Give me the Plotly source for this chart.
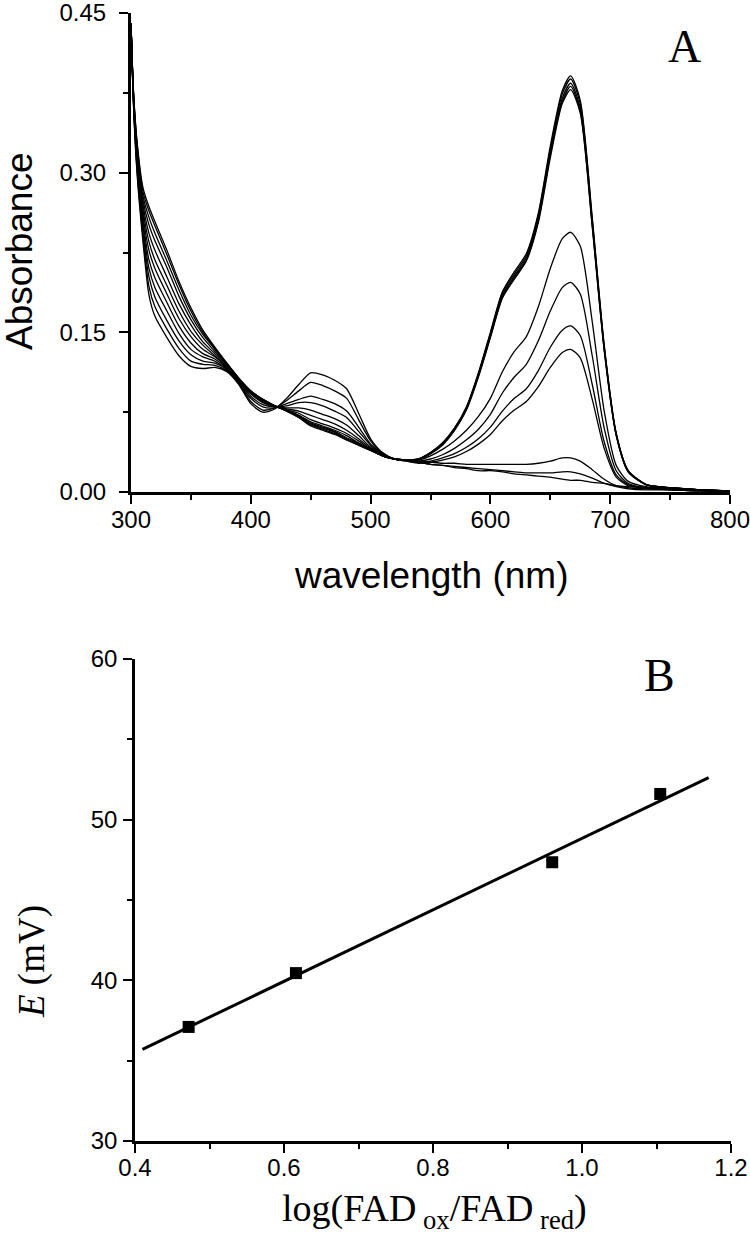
import numpy as np
import plotly.graph_objects as go

# ---------------- Panel A data: absorbance spectra ----------------
wavelength = [300, 302, 305, 310, 315, 320, 330, 340, 350, 360, 370, 380, 390,
              400, 410, 420, 430, 440, 450, 460, 470, 480, 490, 500, 510, 520,
              530, 540, 550, 560, 570, 580, 590, 600, 610, 620, 630, 640, 650, 660,
              667, 675, 685, 695, 705, 715, 730, 750, 775, 800]

spec01 = [.440, .365, .300, .235, .185, .165, .145, .128, .118, .116, .117, .113, .101,
          .083, .075, .078, .088, .101, .112, .110, .105, .097, .074, .050, .037, .031,
          .030, .031, .037, .046, .060, .080, .112, .150, .188, .207, .224, .262, .325, .377,
          .391, .368, .258, .138, .055, .020, .007, .004, .002, .001]
spec02 = [.440, .367, .303, .240, .193, .174, .153, .135, .123, .120, .119, .114, .102,
          .085, .077, .079, .086, .095, .103, .100, .095, .088, .068, .048, .036, .031,
          .030, .031, .037, .046, .060, .079, .111, .149, .187, .205, .222, .260, .322, .374,
          .388, .365, .256, .137, .055, .020, .007, .004, .002, .001]
spec03 = [.440, .368, .306, .245, .202, .183, .161, .142, .129, .123, .121, .115, .102,
          .088, .080, .079, .083, .087, .090, .087, .083, .076, .061, .045, .036, .031,
          .030, .031, .036, .045, .059, .079, .110, .147, .185, .203, .220, .257, .319, .370,
          .384, .361, .253, .135, .054, .020, .007, .004, .002, .001]
spec04 = [.440, .370, .309, .250, .210, .192, .170, .149, .134, .127, .123, .115, .103,
          .090, .082, .080, .081, .084, .084, .081, .076, .070, .057, .044, .035, .031,
          .030, .031, .036, .045, .058, .078, .109, .146, .183, .202, .218, .255, .317, .367,
          .381, .358, .251, .134, .054, .019, .007, .004, .002, .001]
spec05 = [.440, .371, .312, .255, .218, .201, .178, .156, .140, .130, .125, .116, .103,
          .092, .084, .080, .079, .079, .077, .073, .069, .063, .053, .042, .035, .031,
          .030, .031, .036, .044, .058, .077, .108, .145, .182, .200, .217, .253, .314, .365,
          .378, .356, .249, .133, .053, .019, .007, .004, .002, .001]
spec06 = [.440, .372, .315, .260, .227, .210, .186, .163, .146, .134, .127, .117, .104,
          .093, .085, .080, .078, .076, .072, .068, .064, .058, .050, .041, .035, .031,
          .030, .030, .034, .040, .048, .058, .071, .088, .113, .132, .146, .174, .210, .238,
          .244, .231, .160, .076, .025, .010, .005, .003, .002, .001]
spec07 = [.440, .373, .318, .265, .235, .218, .194, .170, .151, .138, .128, .118, .105,
          .094, .086, .081, .077, .074, .068, .064, .060, .055, .048, .040, .034, .031,
          .030, .029, .031, .035, .041, .049, .059, .073, .093, .108, .120, .142, .170, .192,
          .197, .186, .128, .060, .020, .008, .004, .003, .002, .001]
spec08 = [.440, .374, .321, .270, .243, .227, .202, .177, .157, .141, .130, .119, .105,
          .094, .086, .081, .077, .072, .066, .062, .058, .053, .046, .040, .034, .031,
          .029, .028, .029, .032, .036, .042, .050, .061, .076, .088, .097, .114, .136, .152,
          .156, .147, .101, .047, .016, .007, .004, .003, .002, .001]
spec09 = [.440, .375, .324, .274, .251, .236, .211, .184, .162, .145, .132, .119, .106,
          .094, .086, .081, .077, .072, .065, .061, .057, .051, .046, .040, .034, .031,
          .029, .027, .028, .030, .033, .038, .045, .054, .067, .077, .085, .099, .117, .131,
          .134, .126, .087, .041, .014, .006, .004, .003, .002, .001]
spec10 = [.440, .376, .326, .278, .258, .243, .217, .190, .166, .148, .134, .120, .106,
          .095, .087, .081, .076, .071, .064, .060, .056, .050, .045, .039, .034, .031,
          .030, .029, .028, .027, .027, .026, .026, .026, .026, .026, .026, .027, .029, .032,
          .032, .029, .021, .012, .006, .004, .003, .002, .001, .001]
spec11 = [.440, .377, .328, .282, .264, .250, .223, .195, .170, .150, .135, .121, .107,
          .095, .087, .081, .076, .070, .063, .059, .055, .049, .044, .039, .034, .031,
          .030, .028, .026, .025, .024, .023, .022, .021, .020, .019, .018, .018, .018, .019,
          .019, .017, .013, .008, .005, .003, .002, .002, .001, .001]
spec12 = [.440, .378, .330, .286, .268, .254, .227, .198, .173, .152, .136, .121, .107,
          .095, .087, .081, .076, .070, .062, .058, .054, .049, .044, .039, .034, .031,
          .030, .028, .026, .025, .023, .022, .020, .020, .019, .017, .016, .015, .014, .012,
          .011, .011, .009, .008, .006, .005, .004, .002, .001, .000]

spectra = [spec01, spec02, spec03, spec04, spec05, spec06,
           spec07, spec08, spec09, spec10, spec11, spec12]

# ---------------- Panel B data: Nernst plot ----------------
log_ratio = [0.472, 0.616, 0.960, 1.105]
potential_mV = [37.1, 40.45, 47.35, 51.6]
fit_x_ends = [0.41, 1.17]

H = 1243.0
W = 750.0

def py(px):
    return 1 - px / H

def pxx(px):
    return px / W

fig = go.Figure()

for s in spectra:
    fig.add_trace(go.Scatter(
        x=wavelength, y=s, mode="lines",
        line=dict(color="black", width=1.3, shape="spline", smoothing=0.7),
        xaxis="x", yaxis="y", showlegend=False, hoverinfo="skip"))

slope, intercept = np.polyfit(log_ratio, potential_mV, 1)
fit_y = [slope * v + intercept for v in fit_x_ends]
fig.add_trace(go.Scatter(
    x=fit_x_ends, y=fit_y, mode="lines",
    line=dict(color="black", width=3),
    xaxis="x2", yaxis="y2", showlegend=False, hoverinfo="skip"))
fig.add_trace(go.Scatter(
    x=log_ratio, y=potential_mV, mode="markers",
    marker=dict(symbol="square", size=12, color="black"),
    xaxis="x2", yaxis="y2", showlegend=False))

sans = "Liberation Sans, Arial, sans-serif"
serif = "Liberation Serif, Times New Roman, serif"

common_axis = dict(showline=True, linecolor="black", showgrid=False, zeroline=False,
                   ticks="outside", tickcolor="black", mirror=False, automargin=False,
                   ticklabeloverflow="allow")

fig.update_layout(
    width=750, height=1243,
    margin=dict(l=0, r=0, t=0, b=0, autoexpand=False),
    paper_bgcolor="white", plot_bgcolor="white",
    showlegend=False,
    xaxis=dict(domain=[pxx(131), pxx(730)], range=[300, 800], anchor="y",
               dtick=100, tick0=300, linewidth=3, ticklen=9, tickwidth=2,
               ticklabelstandoff=-5,
               tickfont=dict(family=sans, size=24, color="black"),
               minor=dict(dtick=50, tick0=300, ticks="outside", ticklen=5, tickwidth=2,
                          tickcolor="black", showgrid=False),
               **common_axis),
    yaxis=dict(domain=[py(492), py(13)], range=[0, 0.45], anchor="x",
               dtick=0.15, tick0=0, tickformat=".2f", linewidth=3, ticklen=9, tickwidth=2,
               ticklabelstandoff=8,
               tickfont=dict(family=sans, size=24, color="black"),
               minor=dict(dtick=0.075, tick0=0, ticks="outside", ticklen=5, tickwidth=2,
                          tickcolor="black", showgrid=False),
               **common_axis),
    xaxis2=dict(domain=[pxx(135), pxx(731)], range=[0.4, 1.2], anchor="y2",
                dtick=0.2, tick0=0.4, tickformat=".1f", linewidth=2.5, ticklen=9, tickwidth=2,
                ticklabelstandoff=-6,
                tickfont=dict(family=sans, size=24, color="black"),
                minor=dict(dtick=0.1, tick0=0.4, ticks="outside", ticklen=5, tickwidth=2,
                           tickcolor="black", showgrid=False),
                **common_axis),
    yaxis2=dict(domain=[py(1141), py(659)], range=[30, 60], anchor="x2",
                dtick=10, tick0=30, linewidth=2.5, ticklen=9, tickwidth=2,
                ticklabelstandoff=1,
                tickfont=dict(family=sans, size=24, color="black"),
                minor=dict(dtick=5, tick0=30, ticks="outside", ticklen=5, tickwidth=2,
                           tickcolor="black", showgrid=False),
                **common_axis),
)

annotations = [
    dict(text="A", x=pxx(684), y=py(46), font=dict(family=serif, size=46, color="black")),
    dict(text="B", x=pxx(659), y=py(675), font=dict(family=serif, size=46, color="black")),
    dict(text="Absorbance", x=pxx(20), y=py(252), textangle=-90,
         font=dict(family=sans, size=37, color="black")),
    dict(text="wavelength (nm)", x=pxx(431), y=py(575),
         font=dict(family=sans, size=37, color="black")),
    dict(text="<i>E</i> (mV)", x=pxx(32), y=py(962), textangle=-90,
         font=dict(family=serif, size=37, color="black")),
    dict(text="log(FAD<sub> ox</sub>/FAD<sub> red</sub>)", x=pxx(435), y=py(1211),
         font=dict(family=serif, size=38, color="black")),
]
for a in annotations:
    a.update(xref="paper", yref="paper", showarrow=False, xanchor="center", yanchor="middle")
fig.update_layout(annotations=annotations)

fig.write_html("out.html",
               config={"displayModeBar": False},
               post_script="document.body.style.margin='0';document.body.style.padding='0';")
